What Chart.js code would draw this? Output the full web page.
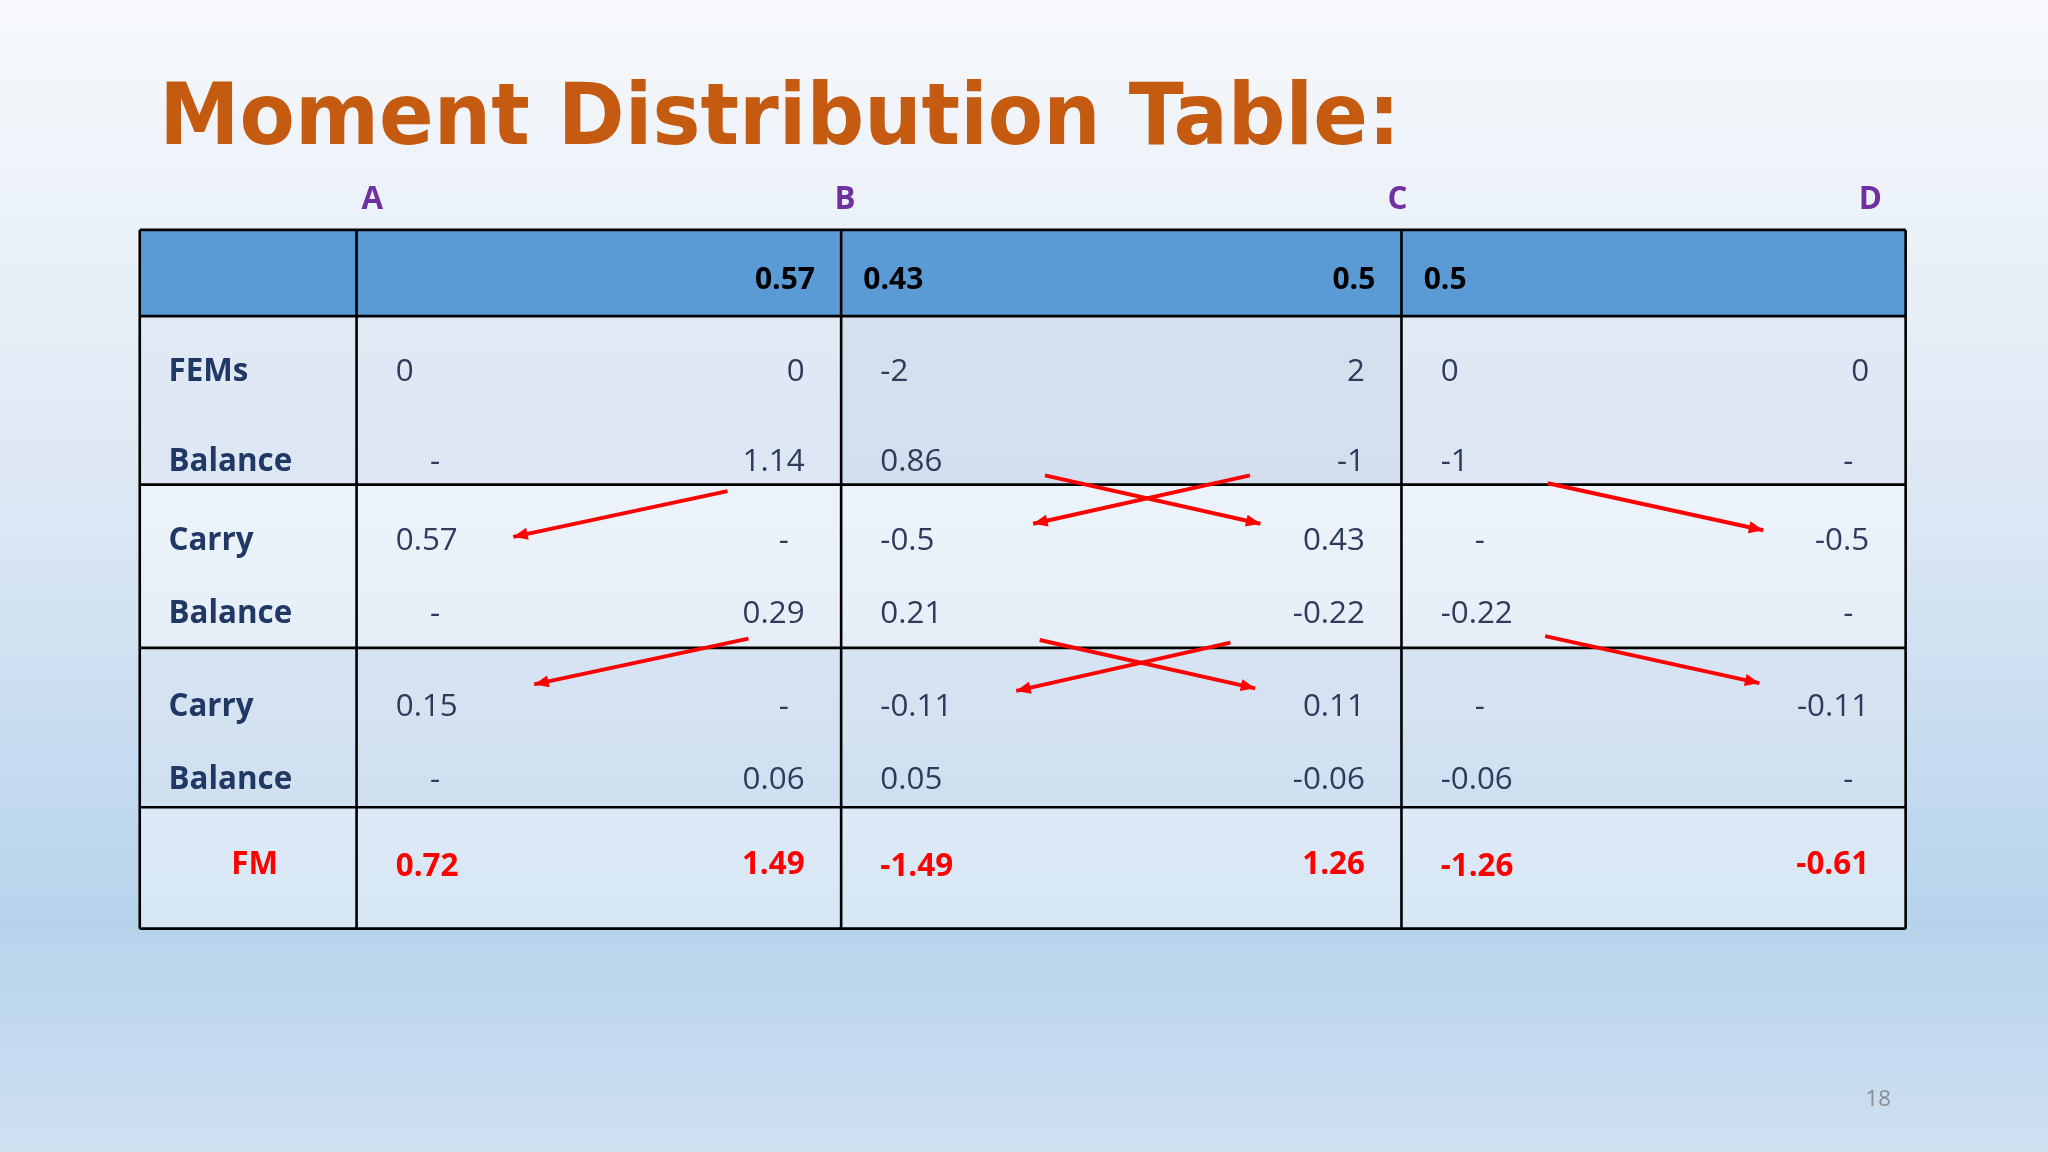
<!DOCTYPE html>
<html><head><meta charset="utf-8">
<script src="https://cdn.jsdelivr.net/npm/chart.js@4/dist/chart.umd.min.js"></script>
<style>html,body{margin:0;padding:0;overflow:hidden}#w{width:2048px;height:1152px}</style>
</head><body><div id="w"><canvas id="c"></canvas></div>
<script>
const title = "Moment Distribution Table:";
const joints = ["A","B","C","D"];
const rowLabels = ["FEMs","Balance","Carry","Balance","Carry","Balance","FM"];
const dfHeader = ["","0.57","0.43","0.5","0.5",""];
const fems     = ["0","0","-2","2","0","0"];
const balance1 = ["-","1.14","0.86","-1","-1","-"];
const carry1   = ["0.57","-","-0.5","0.43","-","-0.5"];
const balance2 = ["-","0.29","0.21","-0.22","-0.22","-"];
const carry2   = ["0.15","-","-0.11","0.11","-","-0.11"];
const balance3 = ["-","0.06","0.05","-0.06","-0.06","-"];
const finalMoments = ["0.72","1.49","-1.49","1.26","-1.26","-0.61"];
const rows = [fems,balance1,carry1,balance2,carry2,balance3,finalMoments];
// layout (in 1568x882 slide units)
const colX = [107,273,644,1073,1459];
const rowY = [176,242,371,496,618,711];
const textY = [285,354,414,470,541,597,662];
const jointX = [285,647,1070,1432];
const arrows = [[557,376,393,411],[800,364,965,401],[957,364,791,401],[1185,370,1350,406],
                [573,489,409,524],[796,490,961,527],[942,492,778,529],[1183,487,1347,523]];

const tablePlugin = {id:'tbl', beforeDraw(ch){
  const c=ch.ctx, xs=ch.scales.x, ys=ch.scales.y;
  const X=v=>xs.getPixelForValue(v), Y=v=>ys.getPixelForValue(v), S=X(1)-X(0);
  const g=c.createLinearGradient(0,0,0,ch.height);
  g.addColorStop(0,'#f7f9fc');g.addColorStop(0.45,'#dbe7f4');g.addColorStop(0.8,'#b7d3ec');g.addColorStop(1,'#cfe0f1');
  c.fillStyle=g;c.fillRect(0,0,ch.width,ch.height);
  c.save();c.fillStyle='#c55a11';c.font='bold '+(66*S)+'px "DejaVu Sans"';c.textBaseline='alphabetic';
  const tw=c.measureText(title).width, target=(1072-122)*S;
  c.translate(X(122),Y(110));c.scale(target/tw,1);c.fillText(title,0,0);c.restore();
  c.fillStyle='#7030a0';c.font='bold '+(24*S)+'px "Open Sans"';c.textAlign='center';c.textBaseline='middle';
  joints.forEach((j,i)=>c.fillText(j,X(jointX[i]),Y(153)));
  c.fillStyle='#5b9bd5';c.fillRect(X(107),Y(176),X(1459)-X(107),Y(242)-Y(176));
  for(let r=0;r<4;r++){c.fillStyle=r%2?'rgba(255,255,255,0.45)':'rgba(220,230,242,0.55)';
    c.fillRect(X(107),Y(rowY[r+1]),X(1459)-X(107),Y(rowY[r+2])-Y(rowY[r+1]));}
  c.fillStyle='rgba(190,205,225,0.3)';c.fillRect(X(644),Y(242),X(1073)-X(644),Y(371)-Y(242));
  c.strokeStyle='#000';c.lineWidth=2*S;
  rowY.forEach(y=>{c.beginPath();c.moveTo(X(107),Y(y));c.lineTo(X(1459),Y(y));c.stroke();});
  colX.forEach(x=>{c.beginPath();c.moveTo(X(x),Y(176));c.lineTo(X(x),Y(711));c.stroke();});
  c.fillStyle='#000';c.font='bold '+(23*S)+'px "Open Sans"';
  for(let k=0;k<3;k++){const l=colX[k+1],rr=colX[k+2];
    c.textAlign='left';c.fillText(dfHeader[2*k],X(l+17),Y(215));
    c.textAlign='right';c.fillText(dfHeader[2*k+1],X(rr-20),Y(215));}
  rows.forEach((vals,r)=>{
    const fm=r===6;
    c.fillStyle=fm?'#ff0000':'#1f3864';c.font='bold '+(24*S)+'px "Open Sans"';
    c.textAlign=fm?'center':'left';c.fillText(rowLabels[r],fm?X(195):X(129),Y(textY[r]));
    c.font=(fm?'bold ':'')+(24*S)+'px "Open Sans"';c.fillStyle=fm?'#ff0000':'#2f3b5c';
    for(let k=0;k<3;k++){const l=colX[k+1],rr=colX[k+2];
      const lv=vals[2*k],rv=vals[2*k+1];
      if(lv==='-'){c.textAlign='center';c.fillText(lv,X(l+60),Y(textY[r]));}
      else{c.textAlign='left';c.fillText(lv,X(l+30),Y(textY[r]+(fm?2:0)));}
      c.textAlign='right';c.fillText(rv,X(rv==='-'?rr-40:rr-28),Y(textY[r]));}
  });
  c.strokeStyle='#ff0000';c.fillStyle='#ff0000';c.lineWidth=3*S;
  arrows.forEach(a=>{const x1=X(a[0]),y1=Y(a[1]),x2=X(a[2]),y2=Y(a[3]);
    c.beginPath();c.moveTo(x1,y1);c.lineTo(x2,y2);c.stroke();
    const ang=Math.atan2(y2-y1,x2-x1),L=12*S;
    c.beginPath();c.moveTo(x2,y2);c.lineTo(x2-L*Math.cos(ang-0.4),y2-L*Math.sin(ang-0.4));
    c.lineTo(x2-L*Math.cos(ang+0.4),y2-L*Math.sin(ang+0.4));c.closePath();c.fill();});
  c.fillStyle='#8c8c8c';c.font=(17*S)+'px "Open Sans"';c.textAlign='center';c.fillText('18',X(1438),Y(842));
}};
new Chart(document.getElementById('c'),{type:'scatter',data:{datasets:[{data:[]}]},
 options:{responsive:true,maintainAspectRatio:false,animation:false,layout:{padding:0},
  plugins:{legend:{display:false},tooltip:{enabled:false}},
  scales:{x:{type:'linear',min:0,max:1568,display:false},y:{type:'linear',min:0,max:882,reverse:true,display:false}}},
 plugins:[tablePlugin]});
</script></body></html>
